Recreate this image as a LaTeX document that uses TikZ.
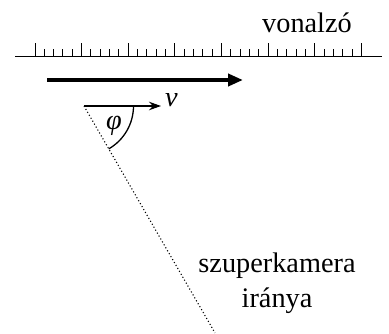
\documentclass[tikz,border=0pt]{standalone}
\usepackage{fontspec}
\setmainfont{Liberation Serif}
\usetikzlibrary{arrows.meta}
\begin{document}
\begin{tikzpicture}[x=1pt,y=-1pt,
  lbl/.style={inner sep=0pt,font=\fontsize{28.3}{35}\selectfont},
  rulerline/.style={line width=1pt},
  tick/.style={line width=1pt},
  bold/.style={line width=4pt,-{Triangle[length=15pt,width=12pt]}},
  thin/.style={line width=1.1pt,-{Stealth[length=12pt,width=8.5pt]}},
  dots/.style={line width=1.1pt,dash pattern=on 1.1pt off 2.3pt},
  arcline/.style={line width=1.3pt}]
\useasboundingbox (0,0) rectangle (389,334);
% ruler
\coordinate (rl) at (15,57);
\coordinate (rr) at (382,57);
\draw[rulerline] (rl) -- (rr);
\foreach \i in {0,...,35}{
  \pgfmathsetmacro{\xx}{35+\i*9.333}
  \pgfmathtruncatemacro{\m}{mod(\i,5)}
  \ifnum\m=0
    \draw[tick] (\xx,57) -- (\xx,43);
  \else
    \draw[tick] (\xx,57) -- (\xx,49);
  \fi
}
\node[lbl,anchor=base] (ruler) at (307,33) {vonalzó};
% bold arrow
\coordinate (ba) at (47,80);
\coordinate (bb) at (243,80);
\draw[bold] (ba) -- (bb);
% velocity
\coordinate (o) at (84,106);
\coordinate (vt) at (161,106);
\draw[thin] (o) -- (vt);
\node[lbl,anchor=base west,font=\fontsize{28.3}{35}\selectfont\itshape] (v) at (165,107) {v};
% camera direction
\path (o) ++(60:262) coordinate (ce);
\draw[dots] (o) -- (ce);
\draw[arcline] (o) ++(0:49.5) arc[start angle=0,end angle=60,radius=49.5];
\node[lbl,font=\fontsize{28.3}{35}\selectfont\itshape] (phi) at (114,126) {φ};
\node[lbl,anchor=base] (cam1) at (277,273) {szuperkamera};
\node[lbl,anchor=base] (cam2) at (277,308) {iránya};
\end{tikzpicture}
\end{document}
